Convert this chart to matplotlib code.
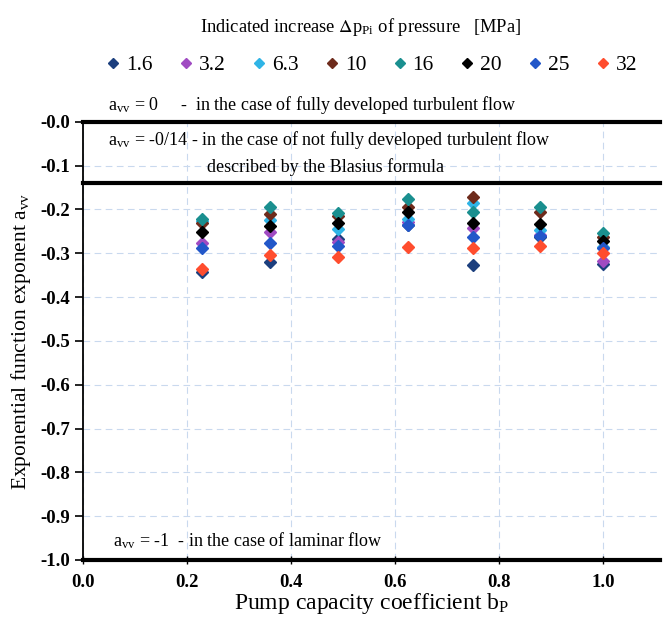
import numpy as np
import matplotlib.pyplot as plt

plt.rcParams["font.family"] = ["Liberation Serif", "DejaVu Serif"]
plt.rcParams["mathtext.fontset"] = "stix"

# pump capacity coefficient bP (columns)
bp = [0.23, 0.36, 0.49, 0.625, 0.75, 0.88, 1.0]

# indicated pressure increase [MPa] and colours
pressures = ["1.6", "3.2", "6.3", "10", "16", "20", "25", "32"]
colors = ["#1c3f7e", "#a04bc2", "#2fb4e6", "#6e2b1c", "#1a8f8f", "#000000", "#2257c9", "#ff4d2e"]

# exponent a_vv for each pressure
a_16 = [-0.342, -0.320, -0.268, -0.235, -0.327, -0.262, -0.325]
a_32 = [-0.277, -0.252, -0.275, -0.228, -0.242, -0.258, -0.318]
a_63 = [-0.226, -0.224, -0.245, -0.222, -0.186, -0.247, -0.285]
a_10 = [-0.230, -0.211, -0.215, -0.194, -0.172, -0.205, -0.264]
a_16b = [-0.223, -0.194, -0.208, -0.176, -0.207, -0.195, -0.255]
a_20 = [-0.252, -0.237, -0.230, -0.205, -0.230, -0.233, -0.272]
a_25 = [-0.289, -0.277, -0.283, -0.236, -0.264, -0.261, -0.289]
a_32b = [-0.336, -0.304, -0.308, -0.285, -0.289, -0.284, -0.299]
series = [a_16, a_32, a_63, a_10, a_16b, a_20, a_25, a_32b]

# limit lines
limits = [0.0, -0.14, -1.0]

W, H = 671, 625
fig = plt.figure(figsize=(W / 100, H / 100), dpi=100)
ax = fig.add_axes([82.7 / W, 1 - 560 / H, (660 - 82.7) / W, (560 - 121.7) / H])

handles = []
for vals, lab, c in zip(series, pressures, colors):
    h, = ax.plot(bp, vals, linestyle="none", marker="D", markersize=5.8,
                 color=c, markeredgecolor=c, label=lab, zorder=3)
    handles.append(h)

for y in limits:
    ax.axhline(y, color="black", lw=3, clip_on=False, zorder=4)

ax.set_xlim(0, 1.11)
ax.set_ylim(-1.0, 0.0)
ax.set_xticks(np.arange(0, 1.01, 0.2))
ax.set_yticks(np.arange(-1.0, 0.01, 0.1))
ax.xaxis.set_major_formatter(plt.FuncFormatter(lambda v, p: f"{v:.1f}"))
ax.yaxis.set_major_formatter(plt.FuncFormatter(lambda v, p: f"{v:.1f}"))
ax.grid(True, color="#c9d9ee", linestyle=(0, (6, 4)), lw=0.8, zorder=0)

for s in ["top", "right", "bottom"]:
    ax.spines[s].set_visible(False)
ax.spines["left"].set_linewidth(1.3)
ax.tick_params(axis="y", direction="out", length=6, width=1.2, labelsize=13.5, pad=3)
ax.tick_params(axis="x", direction="inout", length=6, width=1, labelsize=13.5, pad=7)
for t in ax.get_xticklabels() + ax.get_yticklabels():
    t.set_fontweight("bold")

ax.set_xlabel(r"Pump capacity coefficient b$_\mathregular{P}$", fontsize=17, labelpad=0)
ax.set_ylabel(r"Exponential function exponent a$_\mathregular{vv}$", fontsize=15.5, labelpad=5)

# legend
fig.text(361 / W, 1 - 27 / H, r"Indicated increase $\Delta$p$_\mathregular{Pi}$ of pressure   [MPa]",
         ha="center", va="center", fontsize=13.3)
fig.legend(handles=handles, loc="center", bbox_to_anchor=(372 / W, 1 - 65 / H), ncol=8,
           frameon=False, fontsize=15.5, handlelength=0.6, handletextpad=0.3,
           columnspacing=1.25, markerscale=0.85)

# annotations
fs = 13
fig.text(108 / W, 1 - 105 / H, r"a$_\mathregular{vv}$ = 0     -  in the case of fully developed turbulent flow",
         ha="left", va="center", fontsize=fs)
fig.text(108 / W, 1 - 140 / H, r"a$_\mathregular{vv}$ = -0/14 - in the case of not fully developed turbulent flow",
         ha="left", va="center", fontsize=fs)
fig.text(207 / W, 1 - 167 / H, "described by the Blasius formula",
         ha="left", va="center", fontsize=fs)
fig.text(113 / W, 1 - 541 / H, r"a$_\mathregular{vv}$ = -1  - in the case of laminar flow",
         ha="left", va="center", fontsize=fs)

plt.savefig("out.png", dpi=100)
